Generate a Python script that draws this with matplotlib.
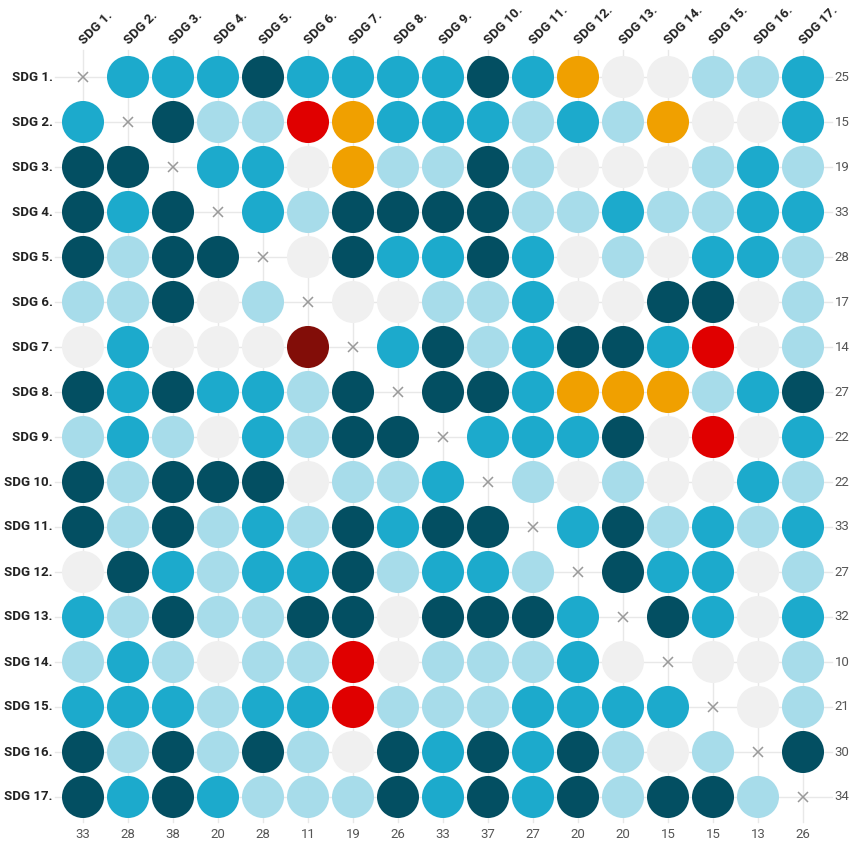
import matplotlib.pyplot as plt
from matplotlib.patches import Circle
import numpy as np

# interaction score of row goal on column goal (-3 .. +3), None on the diagonal
labels = ['SDG %d.' % i for i in range(1, 18)]
scores = [
    [None, 2, 2, 2, 3, 2, 2, 2, 2, 3, 2, -1, 0, 0, 1, 1, 2],
    [2, None, 3, 1, 1, -2, -1, 2, 2, 2, 1, 2, 1, -1, 0, 0, 2],
    [3, 3, None, 2, 2, 0, -1, 1, 1, 3, 1, 0, 0, 0, 1, 2, 1],
    [3, 2, 3, None, 2, 1, 3, 3, 3, 3, 1, 1, 2, 1, 1, 2, 2],
    [3, 1, 3, 3, None, 0, 3, 2, 2, 3, 2, 0, 1, 0, 2, 2, 1],
    [1, 1, 3, 0, 1, None, 0, 0, 1, 1, 2, 0, 0, 3, 3, 0, 1],
    [0, 2, 0, 0, 0, -3, None, 2, 3, 1, 2, 3, 3, 2, -2, 0, 1],
    [3, 2, 3, 2, 2, 1, 3, None, 3, 3, 2, -1, -1, -1, 1, 2, 3],
    [1, 2, 1, 0, 2, 1, 3, 3, None, 2, 2, 2, 3, 0, -2, 0, 2],
    [3, 1, 3, 3, 3, 0, 1, 1, 2, None, 1, 0, 1, 0, 0, 2, 1],
    [3, 1, 3, 1, 2, 1, 3, 2, 3, 3, None, 2, 3, 1, 2, 1, 2],
    [0, 3, 2, 1, 2, 2, 3, 1, 2, 2, 1, None, 3, 2, 2, 0, 1],
    [2, 1, 3, 1, 1, 3, 3, 0, 3, 3, 3, 2, None, 3, 2, 0, 2],
    [1, 2, 1, 0, 1, 1, -2, 0, 1, 1, 1, 2, 0, None, 0, 0, 1],
    [2, 2, 2, 1, 2, 2, -2, 1, 1, 1, 2, 2, 2, 2, None, 0, 1],
    [3, 1, 3, 1, 3, 1, 0, 3, 2, 3, 2, 3, 1, 0, 1, None, 3],
    [3, 2, 3, 2, 1, 1, 1, 3, 2, 3, 2, 3, 1, 3, 3, 1, None],
]

palette = {
    -3: '#820d08',
    -2: '#e00000',
    -1: '#f0a000',
    0: '#f0f0f0',
    1: '#a7dcea',
    2: '#1caacc',
    3: '#034f62',
}

n = len(labels)
row_sums = [sum(v for v in row if v is not None) for row in scores]
col_sums = [sum(scores[r][c] for r in range(n) if scores[r][c] is not None) for c in range(n)]

fig = plt.figure(figsize=(8.52, 8.44), dpi=100)
W, H = 852, 844
left, top, size = 60.5, 54.5, 765
ax = fig.add_axes([left / W, (H - top - size) / H, size / W, size / H])
ax.set_xlim(-0.5, n - 0.5)
ax.set_ylim(n - 0.5, -0.5)
ax.set_aspect('equal')
ax.axis('off')

# light grid through each row and column
for i in range(n):
    ax.plot([i, i], [-0.6, n - 0.45], color='#e8e8e8', lw=1, zorder=0, clip_on=False)
    ax.plot([-0.62, n - 0.35], [i, i], color='#e8e8e8', lw=1, zorder=0, clip_on=False)

for r in range(n):
    for c in range(n):
        v = scores[r][c]
        if v is None:
            ax.plot(c, r, marker='x', color='#999999', ms=7, mew=1.1, zorder=2)
        else:
            ax.add_patch(Circle((c, r), 0.467, facecolor=palette[v], edgecolor='none', zorder=2))

for i, lab in enumerate(labels):
    ax.text(-0.68, i, lab, ha='right', va='center', fontsize=9.5,
            fontweight='bold', color='#222222', family='Roboto')
    ax.text(i + 0.06, -0.66, lab, ha='left', va='bottom', rotation=45,
            rotation_mode='anchor', fontsize=9.5, fontweight='bold',
            color='#222222', family='Roboto')
    ax.text(n - 0.3, i, str(row_sums[i]), ha='left', va='center',
            fontsize=9.5, color='#555555', family='Roboto')
    ax.text(i, n - 0.16, str(col_sums[i]), ha='center', va='center',
            fontsize=9.5, color='#555555', family='Roboto')

fig.savefig('out.png', dpi=100)
